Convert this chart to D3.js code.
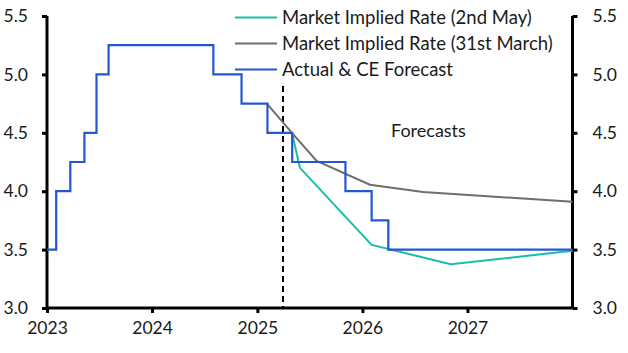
<!DOCTYPE html>
<html><head><meta charset="utf-8">
<script src="https://cdn.jsdelivr.net/npm/d3@7"></script>
<style>body{margin:0;background:#fff}svg{display:block}text{font-family:Lato,"Noto Sans",sans-serif;fill:#1a1a1a}</style>
</head><body><svg id="c" width="628" height="353"></svg>
<script>
// Data
const actualDates = ["2023-01-01","2023-02-02","2023-03-23","2023-05-11","2023-06-22","2023-08-03","2024-08-01","2024-11-07","2025-02-05","2025-05-02","2025-11-03","2026-02-02","2026-04-01","2028-01-01"];
const actualValues = [3.5,4.0,4.25,4.5,5.0,5.25,5.0,4.75,4.5,4.25,4.0,3.75,3.5,3.5];
const marchDates = ["2025-02-03","2025-05-01","2025-07-26","2026-01-27","2026-07-31","2028-01-01"];
const marchValues = [4.75,4.5,4.26,4.055,3.993,3.91];
const mayDates = ["2025-05-01","2025-05-29","2026-02-02","2026-11-04","2028-01-01"];
const mayValues = [4.5,4.2,3.54,3.375,3.49];
const forecastStart = "2025-03-31";
const forecastTop = 4.9;
const yTicks = [3.0,3.5,4.0,4.5,5.0,5.5];
const xTickYears = [2023,2024,2025,2026,2027];
const seriesNames = ["Market Implied Rate (2nd May)","Market Implied Rate (31st March)","Actual & CE Forecast"];
const seriesColors = ["#1bbda8","#6e6e6e","#2257d2"];

const svg = d3.select("#c");
const parse = d3.utcParse("%Y-%m-%d");
const x = d3.scaleUtc().domain([new Date(Date.UTC(2023,0,1)), new Date(Date.UTC(2028,0,1))]).range([47,572.5]);
const y = d3.scaleLinear().domain([3.0,5.5]).range([308,16]);

// axes
const fmt = d3.format(".1f");
const left = svg.append("g").attr("transform","translate(47,0)")
  .call(d3.axisLeft(y).tickValues(yTicks).tickFormat(fmt).tickSize(5).tickPadding(14));
const right = svg.append("g").attr("transform","translate(572.5,0)")
  .call(d3.axisRight(y).tickValues(yTicks).tickFormat(fmt).tickSize(5).tickPadding(15));
const bottom = svg.append("g").attr("transform","translate(0,308)")
  .call(d3.axisBottom(x).tickValues(xTickYears.map(v=>new Date(Date.UTC(v,0,1)))).tickFormat(d3.utcFormat("%Y")).tickSize(5).tickPadding(9));
[left,right,bottom].forEach(g=>{
  g.select(".domain").attr("stroke","#000").attr("stroke-width",3);
  g.selectAll(".tick line").attr("stroke","#000").attr("stroke-width",3);
  g.selectAll(".tick text").style("font-size","17.5px").attr("fill","#1a1a1a");
});
left.select(".domain").attr("d","M0,16V308");
right.select(".domain").attr("d","M0,16V308");
bottom.select(".domain").attr("d","M47,0H572.5");

// forecast divider
svg.append("line")
  .attr("x1",x(parse(forecastStart))).attr("x2",x(parse(forecastStart)))
  .attr("y1",y(forecastTop)).attr("y2",y(3.0))
  .attr("stroke","#000").attr("stroke-width",2).attr("stroke-dasharray","6,4");

const line = d3.line().x(d=>x(d[0])).y(d=>y(d[1]));
const stepLine = d3.line().x(d=>x(d[0])).y(d=>y(d[1])).curve(d3.curveStepAfter);

const mk = (ds,vs)=>ds.map((d,i)=>[parse(d),vs[i]]);
svg.append("path").datum(mk(marchDates,marchValues)).attr("d",line)
  .attr("fill","none").attr("stroke",seriesColors[1]).attr("stroke-width",2);
svg.append("path").datum(mk(mayDates,mayValues)).attr("d",line)
  .attr("fill","none").attr("stroke",seriesColors[0]).attr("stroke-width",2);
svg.append("path").datum(mk(actualDates,actualValues)).attr("d",stepLine)
  .attr("fill","none").attr("stroke",seriesColors[2]).attr("stroke-width",2.2);

// Forecasts label
svg.append("text").attr("x",391).attr("y",136.5).style("font-size","18px").text("Forecasts");

// legend
const lg = svg.append("g");
seriesNames.forEach((n,i)=>{
  const yy = 17.5 + i*26;
  lg.append("line").attr("x1",235).attr("x2",277).attr("y1",yy).attr("y2",yy)
    .attr("stroke",seriesColors[i]).attr("stroke-width",2.2);
  lg.append("text").attr("x",282).attr("y",yy+6.5).style("font-size","18.5px").text(n);
});
</script></body></html>
